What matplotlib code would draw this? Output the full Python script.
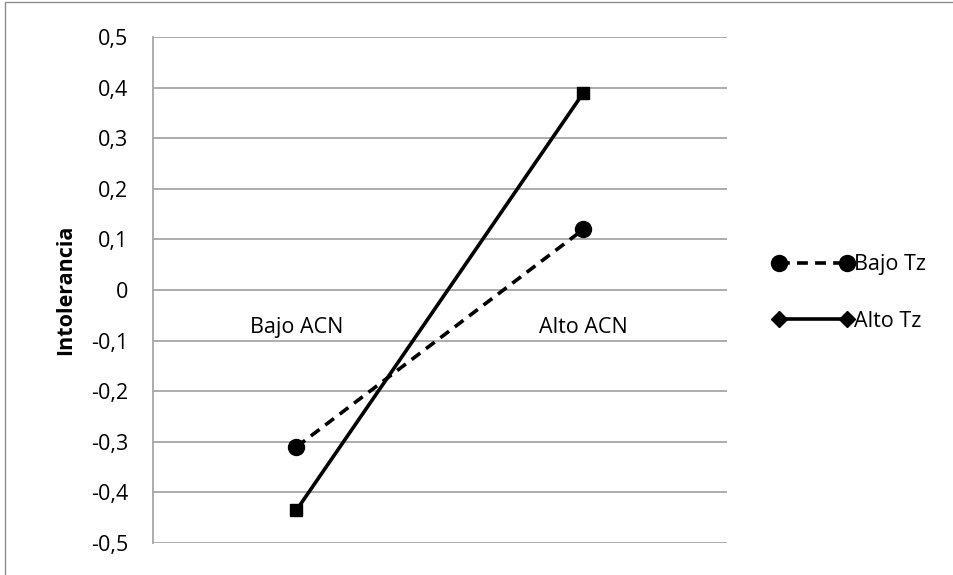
import matplotlib
matplotlib.use("Agg")
import matplotlib.pyplot as plt
from matplotlib.lines import Line2D
from matplotlib.patches import Rectangle
from matplotlib.ticker import FuncFormatter

plt.rcParams["font.family"] = ["Open Sans", "DejaVu Sans"]

# interaction plot: ACN level x Tz level
categories = ["Bajo ACN", "Alto ACN"]
bajo_tz = [-0.31, 0.12]
alto_tz = [-0.435, 0.39]
series_names = ["Bajo Tz", "Alto Tz"]
y_ticks = [-0.5, -0.4, -0.3, -0.2, -0.1, 0.0, 0.1, 0.2, 0.3, 0.4, 0.5]

GRID = "#a6a6a6"
FS = 15.5

fig = plt.figure(figsize=(9.54, 5.75), dpi=100)
W, H = 954, 575
ax = fig.add_axes([153 / W, 1 - 543 / H, (727 - 153) / W, (543 - 37) / H])

x = list(range(len(categories)))
ax.plot(x, bajo_tz, color="black", ls=(0, (3.0, 2.0)), lw=2.6, marker="o", ms=11.5, zorder=3)
ax.plot(x, alto_tz, color="black", ls="-", lw=2.6, marker="s", ms=8.5, zorder=3)

ax.set_xlim(-0.5, 1.5)
ax.set_ylim(-0.5, 0.5)
ax.set_yticks(y_ticks)
ax.yaxis.set_major_formatter(FuncFormatter(
    lambda v, _: "0" if abs(v) < 1e-9 else f"{v:.1f}".replace(".", ",")))
ax.set_xticks([])
ax.tick_params(axis="y", length=0, pad=18, labelsize=FS)
ax.grid(axis="y", color=GRID, lw=1.3)
ax.set_axisbelow(True)
for s in ("top", "right", "bottom"):
    ax.spines[s].set_visible(False)
ax.spines["left"].set_color(GRID)
ax.spines["left"].set_linewidth(1.3)

# category labels sit just under the zero line
for xi, lab in zip(x, categories):
    ax.text(xi, -0.084, lab, ha="center", va="baseline", fontsize=FS)

ax.set_ylabel("Intolerancia", fontsize=FS, fontweight="bold")
ax.yaxis.set_label_coords((76 - 153) / (727 - 153), 0.5)

handles = [
    Line2D([], [], color="black", ls=(0, (3.0, 2.0)), lw=2.6, marker="o", ms=11.5),
    Line2D([], [], color="black", ls="-", lw=2.6, marker="D", ms=8.5),
]
fig.legend(handles, series_names, loc="center left",
           bbox_to_anchor=(764 / W, 1 - 293 / H), frameon=False, fontsize=FS,
           numpoints=2, handlelength=3.75, handletextpad=0.05, labelspacing=1.65,
           borderaxespad=0)

# chart border
fig.add_artist(Rectangle((5 / W, -0.05), 1.1, 1 - 2 / H + 0.05, transform=fig.transFigure,
                         fill=False, edgecolor="#8c8c8c", lw=1))

fig.savefig("out.png", dpi=100, facecolor="white")
